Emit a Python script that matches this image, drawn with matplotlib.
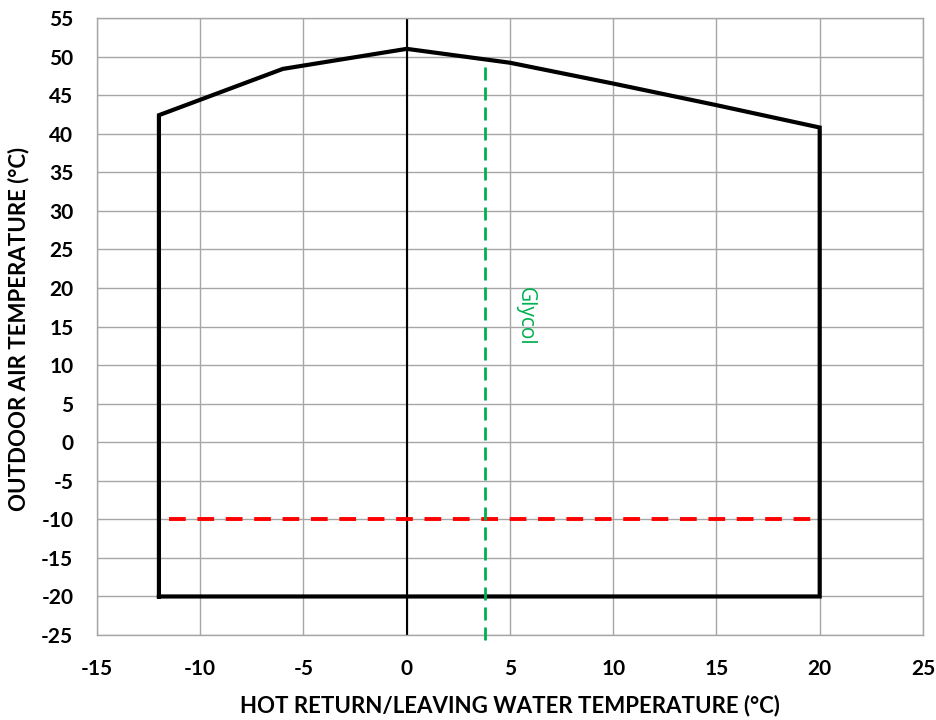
import matplotlib
matplotlib.use("Agg")
import matplotlib.pyplot as plt

# operating envelope (hot water temp vs outdoor air temp)
env_x = [-12, -12, -6, 0, 5, 10, 15, 20, 20, -12]
env_y = [-20, 42.4, 48.4, 51, 49.2, 46.5, 43.7, 40.8, -20, -20]

# red dashed limit line at -10 °C
limit_x = [-11.5, 20]
limit_y = [-10, -10]

# green glycol line
glycol_x = [3.8, 3.8]
glycol_y = [-25.6, 49.0]

xticks = list(range(-15, 26, 5))
yticks = list(range(-25, 56, 5))

fig = plt.figure(figsize=(9.37, 7.2), dpi=100)
ax = fig.add_axes([0.1035, 0.118, 0.8815, 0.857])

ax.set_xlim(-15, 25)
ax.set_ylim(-25, 55)
ax.set_xticks(xticks)
ax.set_yticks(yticks)
ax.set_xticklabels([str(t) for t in xticks])
ax.set_yticklabels([str(t) for t in yticks])
ax.grid(True, color='#a6a6a6', linewidth=1.0)
ax.set_axisbelow(True)

for s in ax.spines.values():
    s.set_color('#a6a6a6')
    s.set_linewidth(1.0)

# vertical axis line crossing at x=0
ax.axvline(0, color='black', linewidth=1.5, zorder=2)

ax.plot(env_x, env_y, color='black', linewidth=3.0, solid_joinstyle='miter', zorder=4)
ax.plot(limit_x, limit_y, color='#ff0000', linewidth=2.8, dashes=(4.3, 3.0), zorder=5)
ax.plot(glycol_x, glycol_y, color='#00b050', linewidth=2.0, dashes=(4.7, 2.5), zorder=5,
        clip_on=False)

ax.text(5.75, 16.3, 'Glycol', color='#00b050', fontsize=15, rotation=270,
        ha='center', va='center', family='Open Sans')

ax.tick_params(length=0, pad=17)
for lab in ax.get_xticklabels() + ax.get_yticklabels():
    lab.set_fontweight('bold')
    lab.set_fontsize(15)
    lab.set_family('Lato')

ax.set_xlabel('HOT RETURN/LEAVING WATER TEMPERATURE (°C)', fontsize=16,
              fontweight='bold', family='Lato', va='center')
ax.set_ylabel('OUTDOOR AIR TEMPERATURE (°C)', fontsize=16,
              fontweight='bold', family='Lato', va='center')
ax.xaxis.set_label_coords(0.5, -0.115)
ax.yaxis.set_label_coords(-0.0956, 0.496)

fig.savefig('out.png', dpi=100)
